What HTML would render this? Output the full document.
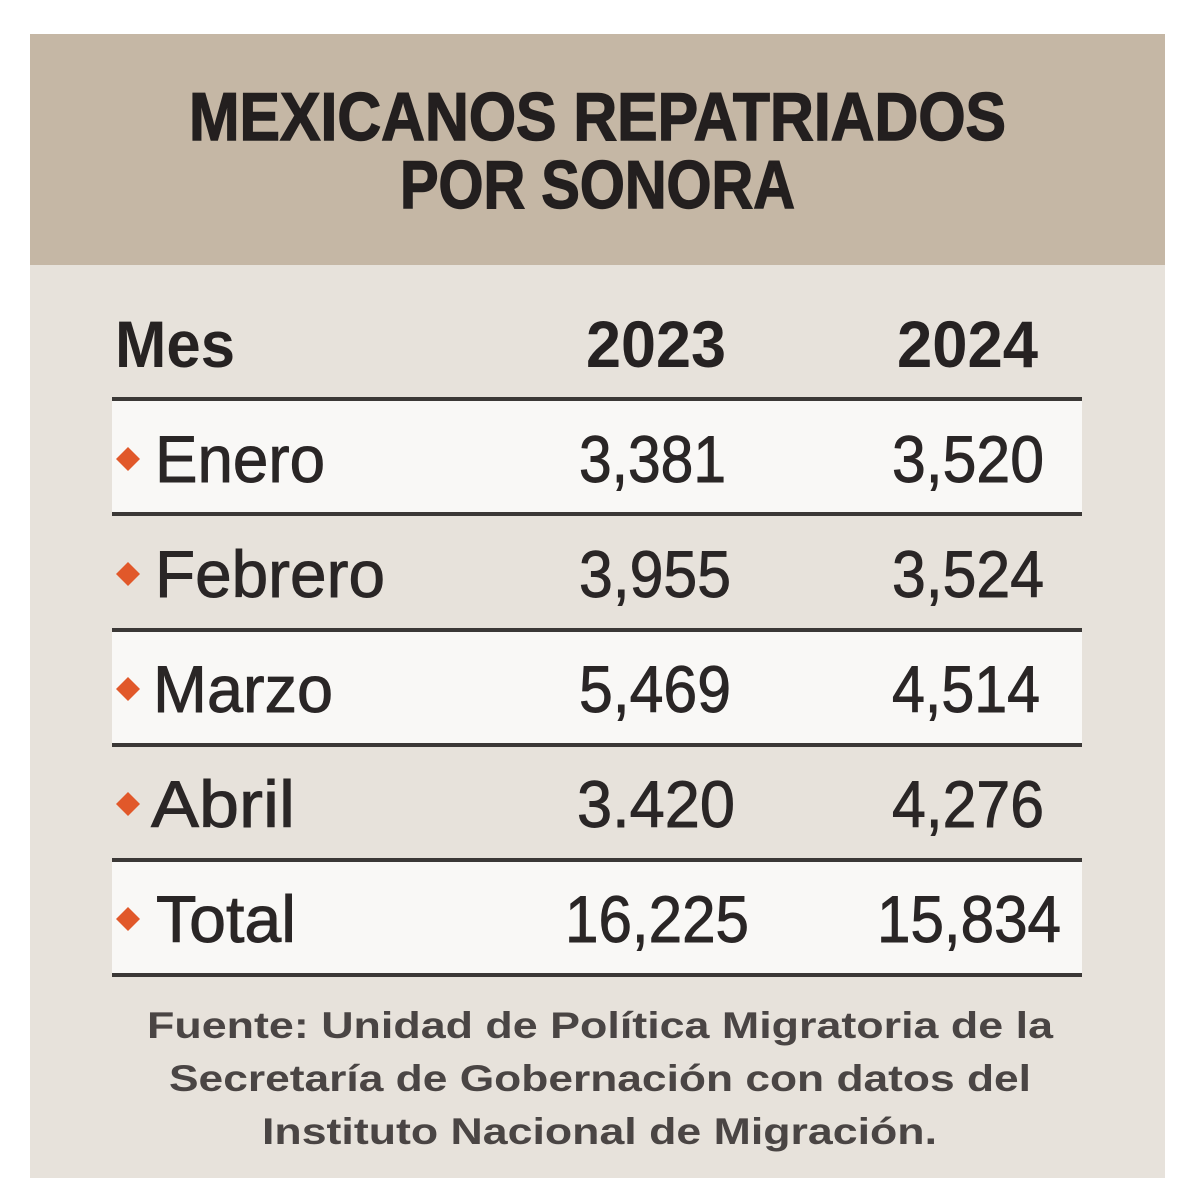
<!DOCTYPE html>
<html><head><meta charset="utf-8">
<style>
html,body{margin:0;padding:0;background:#ffffff;}
svg{display:block;}
text{font-family:"Liberation Sans",sans-serif;}
</style></head>
<body>
<svg width="1200" height="1200" viewBox="0 0 1200 1200" xmlns="http://www.w3.org/2000/svg">
  <rect x="0" y="0" width="1200" height="1200" fill="#ffffff"/>
  <!-- panel -->
  <rect x="30" y="34" width="1135" height="1144" fill="#e7e2db"/>
  <rect x="30" y="34" width="1135" height="231" fill="#c5b7a5"/>

  <!-- title -->
  <g font-size="68" font-weight="bold" fill="#231f1f" stroke="#231f1f" stroke-width="1.4">
    <text x="189" y="140" textLength="817" lengthAdjust="spacingAndGlyphs">MEXICANOS REPATRIADOS</text>
    <text x="400" y="208" textLength="395" lengthAdjust="spacingAndGlyphs">POR SONORA</text>
  </g>

  <!-- header row -->
  <text x="115" y="367" font-size="66" font-weight="bold" fill="#262222" textLength="120" lengthAdjust="spacingAndGlyphs">Mes</text>
  <text x="586" y="367" font-size="66" font-weight="bold" fill="#262222" textLength="140" lengthAdjust="spacingAndGlyphs">2023</text>
  <text x="897" y="367" font-size="66" font-weight="bold" fill="#262222" textLength="141" lengthAdjust="spacingAndGlyphs">2024</text>

  <!-- row backgrounds -->
  <rect x="112" y="400" width="970" height="114" fill="#f9f8f6"/>
  <rect x="112" y="630" width="970" height="115" fill="#f9f8f6"/>
  <rect x="112" y="860" width="970" height="115" fill="#f9f8f6"/>

  <!-- lines -->
  <g fill="#3b3836">
    <rect x="112" y="397" width="970" height="4"/>
    <rect x="112" y="512" width="970" height="4"/>
    <rect x="112" y="628" width="970" height="4"/>
    <rect x="112" y="743" width="970" height="4"/>
    <rect x="112" y="858" width="970" height="4"/>
    <rect x="112" y="973" width="970" height="4"/>
  </g>

  <!-- diamonds -->
  <g fill="#e1582a">
    <polygon points="128,447 140,459 128,471 116,459"/>
    <polygon points="128,562 140,574 128,586 116,574"/>
    <polygon points="128,677 140,689 128,701 116,689"/>
    <polygon points="128,792 140,804 128,816 116,804"/>
    <polygon points="128,907 140,919 128,931 116,919"/>
  </g>

  <!-- rows -->
  <g font-size="66" fill="#2a2626" stroke="#2a2626" stroke-width="0.9">
    <text x="155" y="482" textLength="170" lengthAdjust="spacingAndGlyphs">Enero</text>
    <text x="579" y="482" textLength="147" lengthAdjust="spacingAndGlyphs">3,381</text>
    <text x="892" y="482" textLength="152" lengthAdjust="spacingAndGlyphs">3,520</text>

    <text x="155" y="597" textLength="230" lengthAdjust="spacingAndGlyphs">Febrero</text>
    <text x="579" y="597" textLength="152" lengthAdjust="spacingAndGlyphs">3,955</text>
    <text x="892" y="597" textLength="152" lengthAdjust="spacingAndGlyphs">3,524</text>

    <text x="153" y="712" textLength="180" lengthAdjust="spacingAndGlyphs">Marzo</text>
    <text x="579" y="712" textLength="152" lengthAdjust="spacingAndGlyphs">5,469</text>
    <text x="892" y="712" textLength="148" lengthAdjust="spacingAndGlyphs">4,514</text>

    <text x="151" y="827" textLength="144" lengthAdjust="spacingAndGlyphs">Abril</text>
    <text x="577" y="827" textLength="158" lengthAdjust="spacingAndGlyphs">3.420</text>
    <text x="892" y="827" textLength="152" lengthAdjust="spacingAndGlyphs">4,276</text>

    <text x="156" y="942" textLength="140" lengthAdjust="spacingAndGlyphs">Total</text>
    <text x="565" y="942" textLength="184" lengthAdjust="spacingAndGlyphs">16,225</text>
    <text x="877" y="942" textLength="184" lengthAdjust="spacingAndGlyphs">15,834</text>
  </g>

  <!-- footer -->
  <g font-size="37" font-weight="bold" fill="#4a4544">
    <text x="147" y="1038" textLength="906" lengthAdjust="spacingAndGlyphs">Fuente: Unidad de Política Migratoria de la</text>
    <text x="169" y="1091" textLength="862" lengthAdjust="spacingAndGlyphs">Secretaría de Gobernación con datos del</text>
    <text x="262" y="1144" textLength="675" lengthAdjust="spacingAndGlyphs">Instituto Nacional de Migración.</text>
  </g>
</svg>
</body></html>
